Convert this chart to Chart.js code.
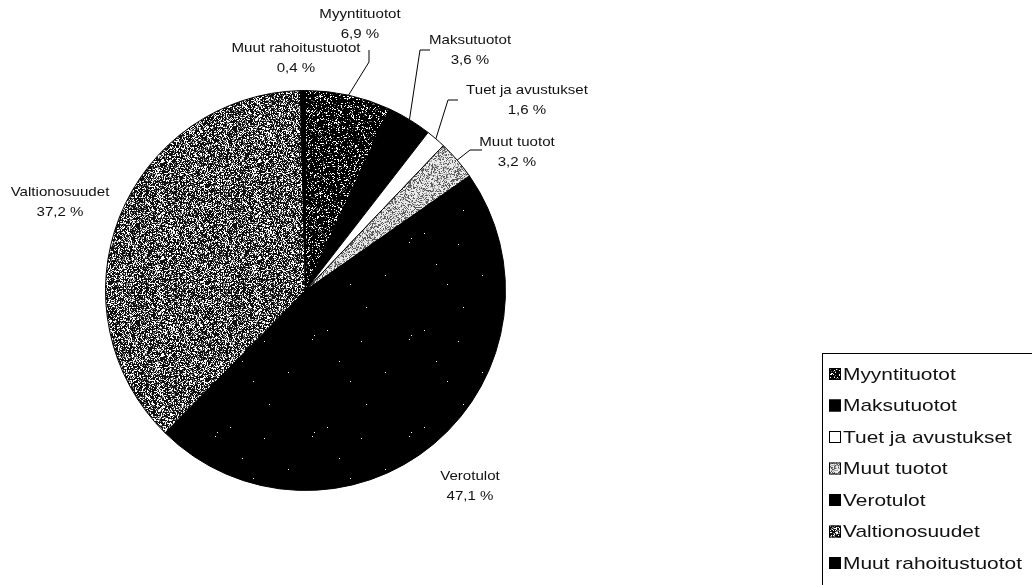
<!DOCTYPE html>
<html><head><meta charset="utf-8">
<script src="https://cdn.jsdelivr.net/npm/chart.js@4.4.1/dist/chart.umd.min.js"></script>
<style>html,body{margin:0;padding:0;background:#fff;overflow:hidden}#wrap{position:relative;width:1032px;height:585px}</style>
</head><body><div id="wrap"><canvas id="c" width="1032" height="585"></canvas></div>
<script>
const categories = ['Myyntituotot','Maksutuotot','Tuet ja avustukset','Muut tuotot','Verotulot','Valtionosuudet','Muut rahoitustuotot'];
const shares = [6.9, 3.6, 1.6, 3.2, 47.1, 37.2, 0.4];
const shareLabels = ['6,9 %','3,6 %','1,6 %','3,2 %','47,1 %','37,2 %','0,4 %'];

// layout (label centres and leader elbows), kept apart from the data
const labelPos = [[360,14],[470,40],[527,90],[517,142],[470,476],[60,192],[296,48]];
const leaderPts = [[[369,50],[369,62]], [[430,50],[420,50]], [[458,100],[448,100]], [[482,150],[470,150]], null, null, null];

function hash(x,y,s){let n=Math.imul(x,374761393)+Math.imul(y,668265263)+Math.imul(s,1442695041);n=Math.imul(n^(n>>>13),1274126177);n^=n>>>16;return (n>>>0)/4294967296;}
function makePattern(bg, fg, density, seed, mid, midDensity){
  const size=97, cv=document.createElement('canvas'); cv.width=size; cv.height=size;
  const g=cv.getContext('2d'); const img=g.createImageData(size,size);
  for(let y=0;y<size;y++)for(let x=0;x<size;x++){
    const r=hash(x,y,seed); let c=bg;
    if(r<density) c=fg; else if(mid && r<density+midDensity) c=mid;
    const k=(y*size+x)*4; img.data[k]=c[0];img.data[k+1]=c[1];img.data[k+2]=c[2];img.data[k+3]=255;
  }
  g.putImageData(img,0,0);
  return document.getElementById('c').getContext('2d').createPattern(cv,'repeat');
}
const fills = [
  makePattern([0,0,0],[255,255,255],0.14,3,[100,100,100],0.08),
  '#000000',
  '#ffffff',
  makePattern([235,235,235],[90,90,90],0.28,7,[170,170,170],0.2),
  makePattern([0,0,0],[255,255,255],0.0008,11),
  makePattern([15,15,15],[255,255,255],0.28,5,[130,130,130],0.14),
  '#000000'
];

const labelPlugin = {
  id:'outLabels',
  afterDraw(chart){
    const ctx=chart.ctx, meta=chart.getDatasetMeta(0);
    ctx.save();
    ctx.strokeStyle='#000'; ctx.lineWidth=1;
    meta.data.forEach((arc,i)=>{
      const p=arc.getProps(['x','y','startAngle','endAngle','outerRadius'],true);
      const mid=(p.startAngle+p.endAngle)/2;
      const ax=p.x+Math.cos(mid)*p.outerRadius, ay=p.y+Math.sin(mid)*p.outerRadius;
      const pts=leaderPts[i];
      if(pts){ctx.beginPath();ctx.moveTo(pts[0][0],pts[0][1]);for(let k=1;k<pts.length;k++)ctx.lineTo(pts[k][0],pts[k][1]);ctx.lineTo(ax,ay);ctx.stroke();}
    });
    ctx.fillStyle='#111'; ctx.font='13px "Liberation Sans", Arial, sans-serif';
    ctx.textAlign='center'; ctx.textBaseline='middle';
    const sx=1.16;
    categories.forEach((c,i)=>{
      const [lx,ly]=labelPos[i];
      ctx.save(); ctx.translate(lx,ly); ctx.scale(sx,1);
      ctx.fillText(c,0,0); ctx.fillText(shareLabels[i],0,20);
      ctx.restore();
    });
    // legend
    const L={x:822.5,y:353.5,row:31.5,first:374};
    ctx.strokeStyle='#000'; ctx.lineWidth=1;
    ctx.strokeRect(L.x,L.y,260,260);
    ctx.font='17px "Liberation Sans", Arial, sans-serif'; ctx.textAlign='left';
    categories.forEach((c,i)=>{
      const yy=L.first+i*L.row;
      ctx.fillStyle=fills[i]; ctx.fillRect(829,yy-6,12,12);
      ctx.strokeRect(829.5,yy-5.5,11,11);
      ctx.save(); ctx.translate(843,yy+1); ctx.scale(1.23,1);
      ctx.fillStyle='#111'; ctx.fillText(c,0,0);
      ctx.restore();
    });
    ctx.restore();
  }
};

new Chart(document.getElementById('c'),{
  type:'pie',
  data:{labels:categories,datasets:[{data:shares,backgroundColor:fills,borderColor:'#000',borderWidth:1}]},
  options:{
    responsive:false, animation:false, devicePixelRatio:1,
    layout:{padding:{left:105,right:526,top:90,bottom:94}},
    plugins:{legend:{display:false},tooltip:{enabled:false}}
  },
  plugins:[labelPlugin]
});
</script></body></html>
